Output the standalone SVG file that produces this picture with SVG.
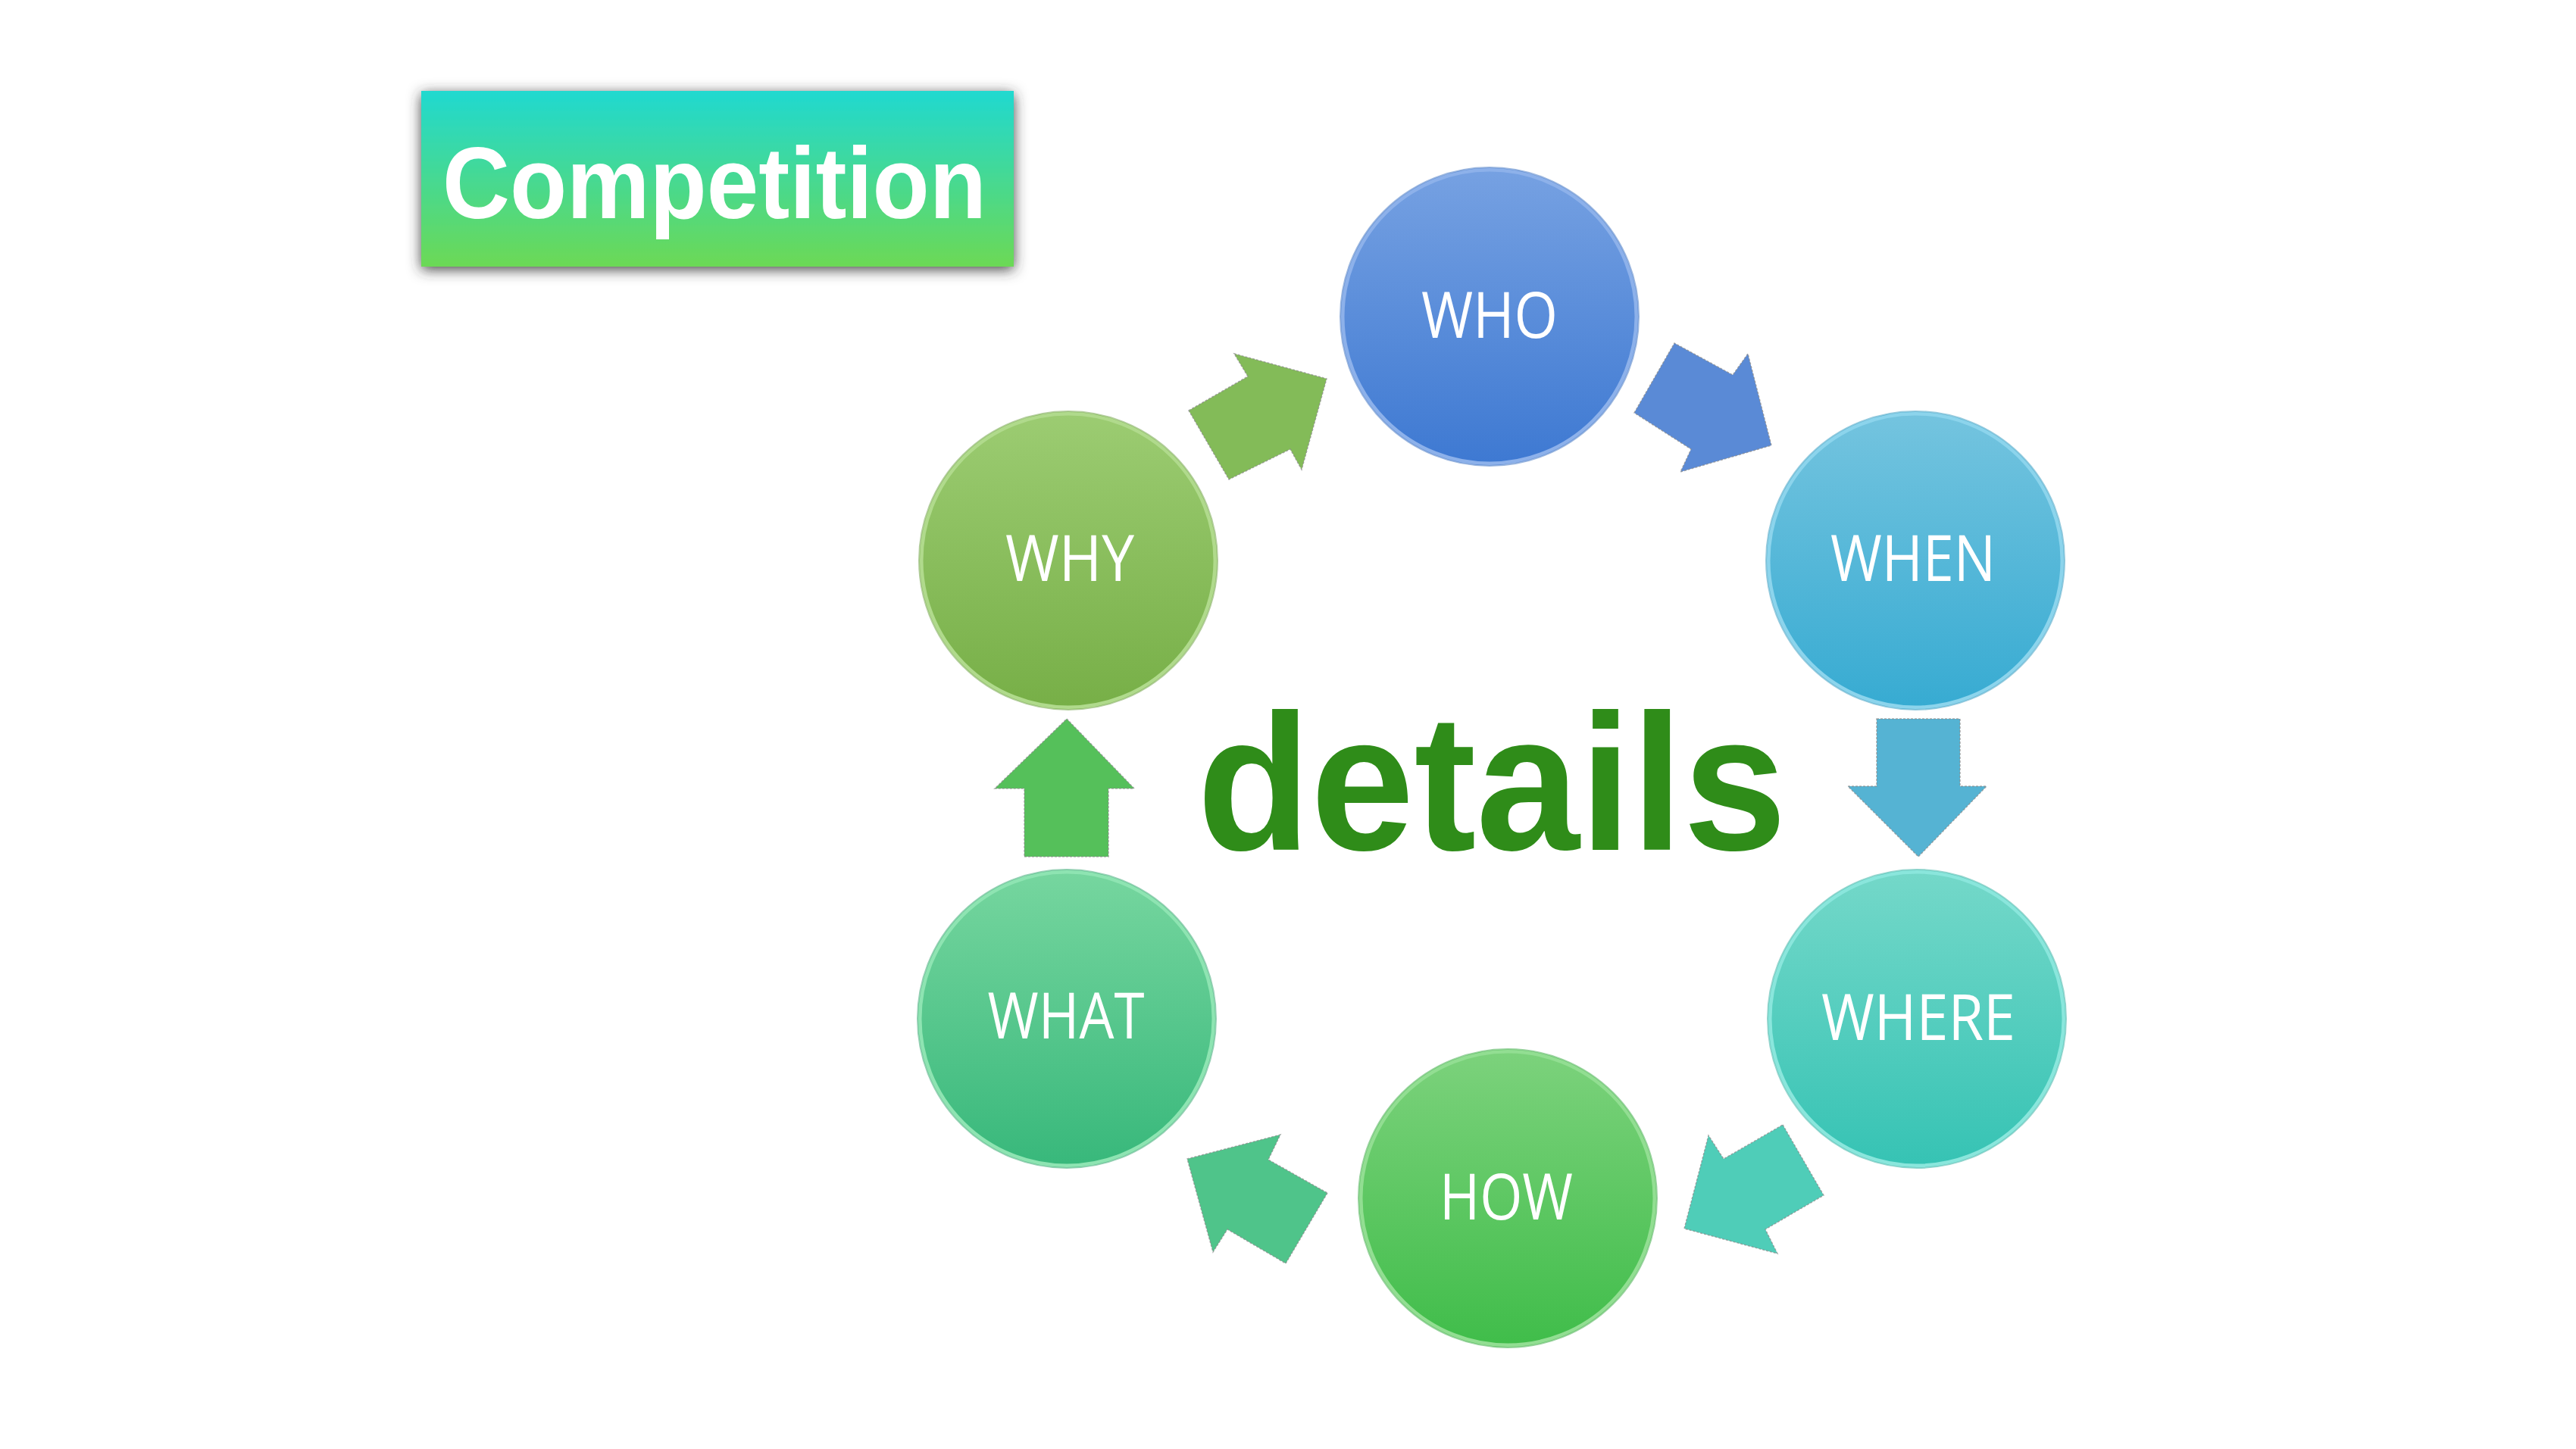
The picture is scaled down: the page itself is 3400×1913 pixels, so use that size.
<svg xmlns="http://www.w3.org/2000/svg" width="3400" height="1913" viewBox="0 0 3400 1913">
  <defs>
    <style>
      .lbl { font-family: "Open Sans", "Liberation Sans", sans-serif; font-size: 84px; fill: #ffffff; text-anchor: middle; }
      .arrow { stroke: #8a8a8a; stroke-width: 1.5; stroke-dasharray: 3 2; stroke-opacity: 0.7; }
      .rim { stroke-width: 5; }
      .edge { fill: none; stroke-width: 2; stroke-opacity: 0.5; }
    </style>
    <filter id="shadow" x="-10%" y="-25%" width="120%" height="150%">
      <feGaussianBlur in="SourceAlpha" stdDeviation="9"/>
      <feOffset dx="0" dy="4" result="b"/>
      <feFlood flood-color="#303030" flood-opacity="0.9"/>
      <feComposite in2="b" operator="in"/>
      <feMerge><feMergeNode/><feMergeNode in="SourceGraphic"/></feMerge>
    </filter>
    <linearGradient id="gComp" x1="0" y1="0" x2="0" y2="1">
      <stop offset="0" stop-color="#20d9d0"/>
      <stop offset="1" stop-color="#6cd955"/>
    </linearGradient>
    <linearGradient id="gWho" x1="0" y1="0" x2="0" y2="1">
      <stop offset="0" stop-color="#76a1e2"/>
      <stop offset="1" stop-color="#3e79d2"/>
    </linearGradient>
    <linearGradient id="gWhen" x1="0" y1="0" x2="0" y2="1">
      <stop offset="0" stop-color="#74c4df"/>
      <stop offset="1" stop-color="#37abd2"/>
    </linearGradient>
    <linearGradient id="gWhere" x1="0" y1="0" x2="0" y2="1">
      <stop offset="0" stop-color="#74d8c9"/>
      <stop offset="1" stop-color="#36c3b4"/>
    </linearGradient>
    <linearGradient id="gHow" x1="0" y1="0" x2="0" y2="1">
      <stop offset="0" stop-color="#7cd27c"/>
      <stop offset="1" stop-color="#40bd4a"/>
    </linearGradient>
    <linearGradient id="gWhat" x1="0" y1="0" x2="0" y2="1">
      <stop offset="0" stop-color="#76d69f"/>
      <stop offset="1" stop-color="#38b87b"/>
    </linearGradient>
    <linearGradient id="gWhy" x1="0" y1="0" x2="0" y2="1">
      <stop offset="0" stop-color="#9ccc72"/>
      <stop offset="1" stop-color="#77af47"/>
    </linearGradient>
  </defs>

  <rect x="0" y="0" width="3400" height="1913" fill="#ffffff"/>

  <g id="title">
    <rect x="556" y="120" width="782" height="232" fill="url(#gComp)" filter="url(#shadow)"/>
    <text x="584" y="288" font-family="Liberation Sans, Arial, sans-serif" font-weight="bold" font-size="134" fill="#ffffff" textLength="718" lengthAdjust="spacingAndGlyphs">Competition</text>
  </g>

  <g id="connectors">
    <polygon class="arrow" fill="#83bb58" points="1569,542 1647,497 1629,467 1751,500 1718,620 1703,593 1622,633"/>
    <polygon class="arrow" fill="#5a8ad6" points="2157,545 2210,453 2287,495 2307,467 2338,588 2218,623 2232,593"/>
    <polygon class="arrow" fill="#55b3d3" points="2477,949 2587,949 2587,1038 2622,1038 2532,1131 2439,1038 2477,1038"/>
    <polygon class="arrow" fill="#4fcdb8" points="2353,1485 2407,1578 2330,1623 2346,1655 2223,1622 2255,1499 2275,1530"/>
    <polygon class="arrow" fill="#4fc48a" points="1752,1575 1697,1668 1620,1623 1601,1653 1567,1530 1690,1498 1674,1531"/>
    <polygon class="arrow" fill="#55c05a" points="1352,1131 1463,1131 1463,1041 1497,1041 1408,949 1313,1041 1352,1041"/>
  </g>

  <g id="center">
    <text x="1580" y="1122" font-family="Liberation Sans, Arial, sans-serif" font-weight="bold" font-size="256" fill="#2f8c19" textLength="778" lengthAdjust="spacingAndGlyphs">details</text>
  </g>

  <g id="who">
    <circle class="rim" cx="1966" cy="418" r="194" fill="url(#gWho)" stroke="#8db1ea"/>
    <circle class="edge" cx="1966" cy="418" r="197" stroke="#3a6fc0"/>
    <text class="lbl" x="1966" y="446" textLength="180" lengthAdjust="spacingAndGlyphs">WHO</text>
  </g>
  <g id="when">
    <circle class="rim" cx="2528" cy="740" r="194" fill="url(#gWhen)" stroke="#8cd4ec"/>
    <circle class="edge" cx="2528" cy="740" r="197" stroke="#2f98bd"/>
    <text class="lbl" x="2525" y="767" textLength="218" lengthAdjust="spacingAndGlyphs">WHEN</text>
  </g>
  <g id="where">
    <circle class="rim" cx="2530" cy="1345" r="194" fill="url(#gWhere)" stroke="#8ae6dc"/>
    <circle class="edge" cx="2530" cy="1345" r="197" stroke="#2fae9f"/>
    <text class="lbl" x="2532" y="1373" textLength="256" lengthAdjust="spacingAndGlyphs">WHERE</text>
  </g>
  <g id="how">
    <circle class="rim" cx="1990" cy="1582" r="194" fill="url(#gHow)" stroke="#92de92"/>
    <circle class="edge" cx="1990" cy="1582" r="197" stroke="#35a83f"/>
    <text class="lbl" x="1988" y="1610" textLength="176" lengthAdjust="spacingAndGlyphs">HOW</text>
  </g>
  <g id="what">
    <circle class="rim" cx="1408" cy="1345" r="194" fill="url(#gWhat)" stroke="#8ee4b2"/>
    <circle class="edge" cx="1408" cy="1345" r="197" stroke="#32a46d"/>
    <text class="lbl" x="1407" y="1371" textLength="207" lengthAdjust="spacingAndGlyphs">WHAT</text>
  </g>
  <g id="why">
    <circle class="rim" cx="1410" cy="740" r="194" fill="url(#gWhy)" stroke="#b0da8c"/>
    <circle class="edge" cx="1410" cy="740" r="197" stroke="#6a9e3e"/>
    <text class="lbl" x="1412" y="767" textLength="170" lengthAdjust="spacingAndGlyphs">WHY</text>
  </g>
</svg>
